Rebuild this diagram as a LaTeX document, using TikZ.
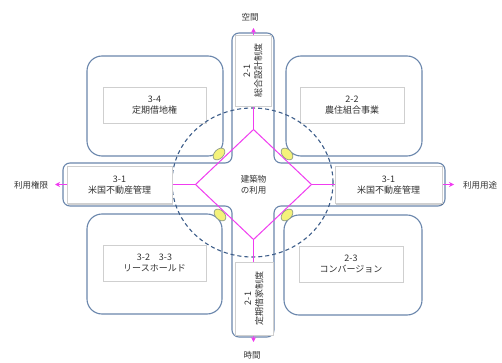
\documentclass[tikz,border=0pt]{standalone}
\usepackage{fontspec}
\setmainfont{Noto Sans CJK JP}
\usetikzlibrary{shapes.geometric,arrows.meta,shadows}
\definecolor{bbord}{HTML}{6A86AC}
\definecolor{dashc}{HTML}{3E5E8A}
\definecolor{magc}{HTML}{F03CF0}
\definecolor{lgray}{HTML}{CFCFCF}
\definecolor{blobY}{HTML}{F4F27A}
\definecolor{blobB}{HTML}{8C9A88}
\definecolor{txtc}{HTML}{333333}
\begin{document}
\begin{tikzpicture}[x=1pt,y=-1pt,
  qbox/.style={draw=bbord,line width=1.1pt,fill=white,rounded corners=15pt,inner sep=0pt},
  lbl/.style={draw=lgray,line width=0.8pt,fill=white,align=center,inner sep=0pt,
    font=\fontsize{9}{11.5}\selectfont,text=txtc},
  shd/.style={drop shadow={shadow xshift=1pt,shadow yshift=-1pt,opacity=0.18,fill=black}},
  crossline/.style={draw=bbord,line width=1.1pt,fill=white,rounded corners=7pt},
  dashring/.style={draw=dashc,line width=1.1pt,dash pattern=on 4pt off 3pt},
  magline/.style={draw=magc,line width=1.1pt},
  magarrow/.style={magline,-{Stealth[length=5pt,width=5pt]}},
  blob/.style={fill=blobY,draw=blobB,line width=0.7pt},
  axis/.style={font=\fontsize{8.5}{10}\selectfont,text=txtc,inner sep=0pt},
]
\useasboundingbox (0,0) rectangle (502,363);

% quadrant boxes
\node[qbox,minimum width=136pt,minimum height=100pt] (q34) at (155,106) {};
\node[qbox,minimum width=136pt,minimum height=100pt] (q22) at (354,106) {};
\node[qbox,minimum width=135pt,minimum height=100pt] (q32) at (154.5,264) {};
\node[qbox,minimum width=138pt,minimum height=100pt] (q23) at (353,265) {};

\node[lbl,shd,minimum width=103pt,minimum height=36pt] (l34) at (154.5,105) {3-4\\定期借地権};
\node[lbl,shd,minimum width=104pt,minimum height=36pt] (l22) at (352,105) {2-2\\農住組合事業};
\node[lbl,shd,minimum width=103pt,minimum height=36pt] (l32) at (154.5,263) {3-2\quad 3-3\\リースホールド};
\node[lbl,shd,minimum width=104pt,minimum height=36pt] (l23) at (351,264) {2-3\\コンバージョン};

% cross
\path[crossline] (232,33) -- (274,33) -- (274,163) -- (445,163) -- (445,206)
  -- (274,206) -- (274,337) -- (232,337) -- (232,206) -- (63,206) -- (63,163)
  -- (232,163) -- cycle;

% dashed ring
\draw[dashring] (252.5,182.5) ellipse [x radius=80.5, y radius=74.5];

% center diamond
\node[diamond,draw=magc,line width=1pt,minimum width=116pt,minimum height=110pt,
  inner sep=0pt,outer sep=0pt,align=center,text=txtc,font=\fontsize{8.5}{11}\selectfont] (dia) at (253.5,184.5) {建築物\\の利用};

\coordinate (tipT) at (253.5,28);
\coordinate (tipB) at (253.5,342);
\coordinate (tipL) at (55,184.5);
\coordinate (tipR) at (454,184.5);
\draw[magarrow] (dia.north) -- (tipT);
\draw[magarrow] (dia.south) -- (tipB);
\draw[magarrow] (dia.west) -- (tipL);
\draw[magarrow] (dia.east) -- (tipR);

% bar labels
\node[lbl,shd,minimum width=105pt,minimum height=37pt] (l31a) at (119.5,185) {3-1\\米国不動産管理};
\node[lbl,shd,minimum width=107pt,minimum height=37pt] (l31b) at (388.5,185) {3-1\\米国不動産管理};
\node[lbl,minimum width=36pt,minimum height=71pt] (l21a) at (253,71) {};
\node[rotate=90,align=center,inner sep=0pt,font=\fontsize{9}{11.5}\selectfont,text=txtc] (t21a) at (l21a.center) {2-1\\総合設計制度};
\node[lbl,minimum width=38pt,minimum height=73pt] (l21b) at (254,298.5) {};
\node[rotate=90,align=center,inner sep=0pt,font=\fontsize{9}{11.5}\selectfont,text=txtc] (t21b) at (l21b.center) {2-1\\定期借家制度};

% yellow blobs
\draw[blob,rotate around={45:(219,154)}] (219,154) ellipse [x radius=7, y radius=4.5];
\draw[blob,rotate around={-45:(287,154)}] (287,154) ellipse [x radius=7, y radius=4.5];
\draw[blob,rotate around={-45:(220,215)}] (220,215) ellipse [x radius=7, y radius=4.5];
\draw[blob,rotate around={45:(287,215)}] (287,215) ellipse [x radius=7, y radius=4.5];

% axis labels
\node[axis] (axT) at (250,17) {空間};
\node[axis] (axB) at (252,355) {時間};
\node[axis] (axL) at (31,185) {利用権限};
\node[axis,anchor=west] (axR) at (463,185) {利用用途};
\end{tikzpicture}
\end{document}
